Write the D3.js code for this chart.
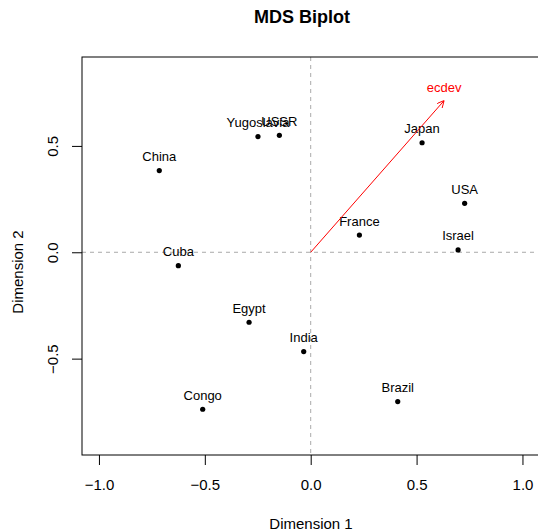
<!DOCTYPE html>
<meta charset="utf-8">
<script src="https://d3js.org/d3.v7.min.js"></script>
<style>
  body { margin: 0; background: #fff; }
  text { font-family: 'Liberation Sans', Arial, sans-serif; }
</style>
<body>
<div id="my_dataviz"></div>
<script>

var countries = ["China", "Yugoslavia", "USSR", "Japan", "USA", "Israel",
                 "France", "Cuba", "Egypt", "India", "Congo", "Brazil"]
var dim1 = [-0.715, -0.249, -0.148, 0.526, 0.727, 0.696, 0.230, -0.625, -0.291, -0.033, -0.510, 0.411]
var dim2 = [0.384, 0.544, 0.550, 0.515, 0.230, 0.011, 0.081, -0.063, -0.329, -0.467, -0.738, -0.702]

var varNames = ["ecdev"]
var load1 = [0.630]
var load2 = [0.713]

var xTicks = [-1, -0.5, 0, 0.5, 1]
var yTicks = [-0.5, 0, 0.5]

var width = 538,
    height = 531

var svg = d3.select("#my_dataviz")
  .append("svg")
    .attr("width", width)
    .attr("height", height)

var x = d3.scaleLinear().domain([-1.08, 1.08]).range([82, 539.4])
var y = d3.scaleLinear().domain([-0.953, 0.918]).range([455, 57])

// title
svg.append("text")
  .attr("x", 302).attr("y", 23)
  .attr("text-anchor", "middle")
  .style("font-size", "18px").style("font-weight", "bold")
  .text("MDS Biplot")

// reference lines
svg.append("line")
  .attr("x1", x(0)).attr("x2", x(0)).attr("y1", y.range()[1]).attr("y2", y.range()[0])
  .attr("stroke", "#aaaaaa").attr("stroke-dasharray", "4,4")
svg.append("line")
  .attr("x1", x.range()[0]).attr("x2", x.range()[1]).attr("y1", y(0)).attr("y2", y(0))
  .attr("stroke", "#aaaaaa").attr("stroke-dasharray", "4,4")

// box
svg.append("rect")
  .attr("x", 82).attr("y", 57)
  .attr("width", 457.4).attr("height", 398)
  .attr("fill", "none").attr("stroke", "black")

// axes
var fmt = d3.format(".1f")
var xAxis = svg.append("g")
  .attr("transform", "translate(0,455)")
  .call(d3.axisBottom(x).tickValues(xTicks).tickFormat(fmt).tickSize(10).tickSizeOuter(0).tickPadding(14))
xAxis.select(".domain").remove()
xAxis.selectAll("text").style("font-size", "15px").style("font-family", "'Liberation Sans', Arial, sans-serif")

var yAxis = svg.append("g")
  .attr("transform", "translate(82,0)")
  .call(d3.axisLeft(y).tickValues(yTicks).tickFormat(fmt).tickSize(10).tickSizeOuter(0))
yAxis.select(".domain").remove()
yAxis.selectAll("text")
  .attr("x", null).attr("dy", null)
  .attr("text-anchor", "middle")
  .attr("transform", "translate(-24,0) rotate(-90)")
  .style("font-size", "15px").style("font-family", "'Liberation Sans', Arial, sans-serif")

// axis titles
svg.append("text")
  .attr("x", 311).attr("y", 529)
  .attr("text-anchor", "middle")
  .style("font-size", "15px")
  .text("Dimension 1")
svg.append("text")
  .attr("transform", "translate(23,272) rotate(-90)")
  .attr("text-anchor", "middle")
  .style("font-size", "15px")
  .text("Dimension 2")

// points
svg.selectAll("allPoints")
  .data(countries)
  .enter()
  .append("circle")
    .attr("cx", function(d, i) { return x(dim1[i]) })
    .attr("cy", function(d, i) { return y(dim2[i]) })
    .attr("r", 2.6)
    .attr("fill", "black")

svg.selectAll("allLabels")
  .data(countries)
  .enter()
  .append("text")
    .attr("x", function(d, i) { return x(dim1[i]) })
    .attr("y", function(d, i) { return y(dim2[i]) - 9.5 })
    .attr("text-anchor", "middle")
    .style("font-size", "13px")
    .text(function(d) { return d })

// variable arrow
svg.append("defs").append("marker")
  .attr("id", "head")
  .attr("viewBox", "0 0 10 10")
  .attr("refX", 10).attr("refY", 5)
  .attr("markerWidth", 7).attr("markerHeight", 7)
  .attr("markerUnits", "userSpaceOnUse")
  .attr("orient", "auto")
  .append("path")
    .attr("d", "M0,0 L10,5 L0,10")
    .attr("fill", "none").attr("stroke", "red").attr("stroke-width", 1.4)

svg.selectAll("allArrows")
  .data(varNames)
  .enter()
  .append("line")
    .attr("x1", x(0)).attr("y1", y(0))
    .attr("x2", function(d, i) { return x(load1[i]) })
    .attr("y2", function(d, i) { return y(load2[i]) })
    .attr("stroke", "red").attr("stroke-width", 1)
    .attr("marker-end", "url(#head)")

svg.selectAll("allVarLabels")
  .data(varNames)
  .enter()
  .append("text")
    .attr("x", function(d, i) { return x(load1[i]) })
    .attr("y", function(d, i) { return y(load2[i]) - 8.5 })
    .attr("text-anchor", "middle")
    .attr("fill", "red")
    .style("font-size", "13px")
    .text(function(d) { return d })

</script>
</body>
